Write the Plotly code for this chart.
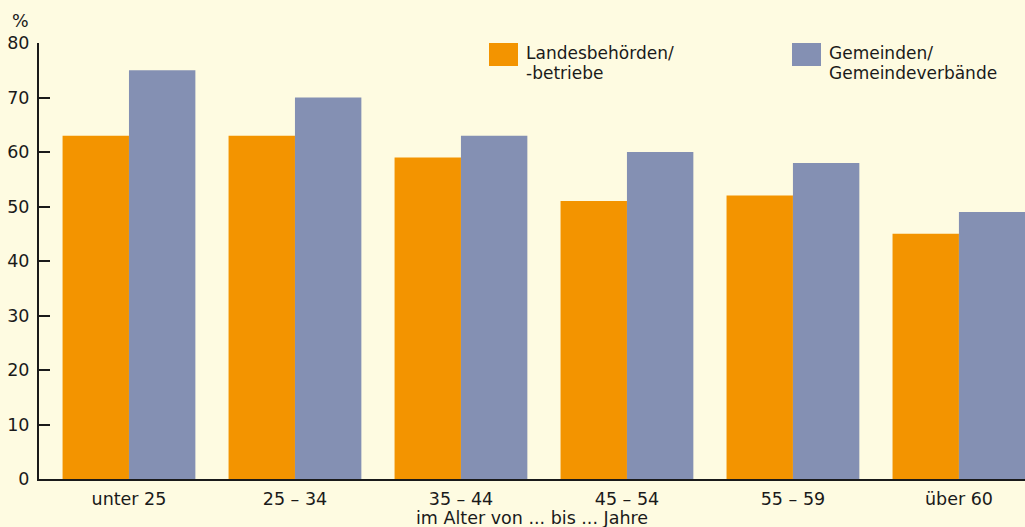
import plotly.graph_objects as go

# Altersgruppen und Anteile in Prozent
categories = ["unter 25", "25 – 34", "35 – 44", "45 – 54", "55 – 59", "über 60"]
landes = [63, 63, 59, 51, 52, 45]
gemeinden = [75, 70, 63, 60, 58, 49]
series_names = [["Landesbehörden/", "-betriebe"], ["Gemeinden/", "Gemeindeverbände"]]
y_ticks = [0, 10, 20, 30, 40, 50, 60, 70, 80]

ORANGE = "#F39400"
BLUE = "#8490B3"
BG = "#FEFBE1"
INK = "#1a1a1a"
FONT = "DejaVu Sans, Liberation Sans, sans-serif"
FS = 17.5

fig = go.Figure()
fig.add_trace(go.Bar(x=categories, y=landes, name=" ".join(series_names[0]),
                     marker=dict(color=ORANGE, line=dict(width=0))))
fig.add_trace(go.Bar(x=categories, y=gemeinden, name=" ".join(series_names[1]),
                     marker=dict(color=BLUE, line=dict(width=0))))

PW, PH = 986, 436  # Größe der Zeichenfläche in Pixeln

fig.update_layout(
    width=1025, height=527,
    margin=dict(l=39, r=0, t=43, b=48),
    paper_bgcolor=BG, plot_bgcolor=BG,
    barmode="group", bargap=0.2, bargroupgap=0,
    showlegend=False,
    font=dict(family=FONT, size=FS, color=INK),
    xaxis=dict(
        type="category", range=[-0.542, 5.398],
        showline=True, linecolor=INK, linewidth=2,
        ticks="", showgrid=False, zeroline=False,
        tickfont=dict(size=FS), ticklabelstandoff=3,
    ),
    yaxis=dict(
        range=[0, 80], tickvals=y_ticks,
        showline=True, linecolor=INK, linewidth=2,
        ticks="inside", ticklen=11, tickwidth=2, tickcolor=INK,
        showgrid=False, zeroline=False,
        tickfont=dict(size=FS), ticklabelstandoff=4,
    ),
)

# Achsentitel unter den Kategorien
fig.add_annotation(text="im Alter von ... bis ... Jahre", xref="paper", yref="paper",
                   x=0.5, y=-(518 - 479) / PH, xanchor="center", yanchor="middle",
                   showarrow=False, font=dict(size=FS))

# Einheitenangabe über der y-Achse
fig.add_annotation(text="%", xref="paper", yref="paper", x=(10 - 39) / PW,
                   y=(479 - 21) / PH, xanchor="left", yanchor="middle",
                   showarrow=False, font=dict(size=FS))

# Legende: Farbfelder mit zweizeiliger Beschriftung
LEG_FS = 17
legend_items = [(ORANGE, series_names[0], 489), (BLUE, series_names[1], 792)]
for color, lines, px in legend_items:
    fig.add_shape(type="rect", xref="paper", yref="paper",
                  x0=(px - 39) / PW, x1=(px + 29 - 39) / PW,
                  y0=(479 - 66) / PH, y1=(479 - 43) / PH,
                  fillcolor=color, line=dict(width=0))
    for i, line in enumerate(lines):
        fig.add_annotation(text=line, xref="paper", yref="paper",
                           x=(px + 36 - 39) / PW, y=(479 - (53.3 + 20 * i)) / PH,
                           xanchor="left", yanchor="middle", align="left",
                           borderpad=0, showarrow=False, font=dict(size=LEG_FS))

fig.write_html("out.html")
